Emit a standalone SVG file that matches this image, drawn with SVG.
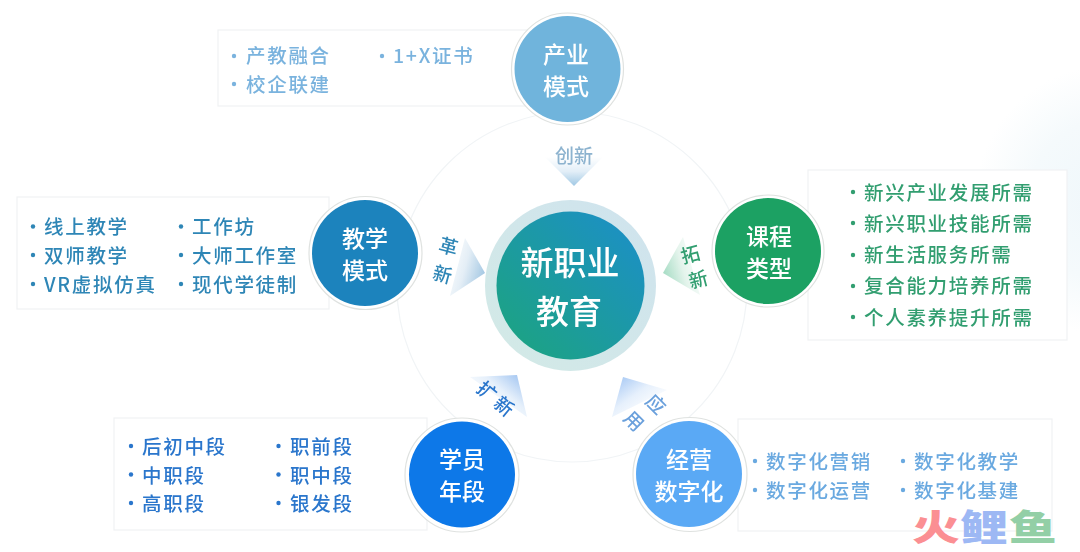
<svg xmlns="http://www.w3.org/2000/svg" width="1080" height="552" viewBox="0 0 1080 552">
<defs>
<radialGradient id="bg" cx="1110" cy="200" r="135" gradientUnits="userSpaceOnUse"><stop offset="0" stop-color="#eff7fb"/><stop offset="0.6" stop-color="#f5fafc"/><stop offset="1" stop-color="#fff"/></radialGradient>
<linearGradient id="core" x1="0" y1="1" x2="1" y2="0"><stop offset="0" stop-color="#1ca57c"/><stop offset="1" stop-color="#1f8ecb"/></linearGradient>
<linearGradient id="halo" x1="0" y1="1" x2="1" y2="0"><stop offset="0" stop-color="#d3eae6"/><stop offset="1" stop-color="#cfe3ee"/></linearGradient>
<linearGradient id="a1" gradientUnits="userSpaceOnUse" x1="574" y1="186" x2="574" y2="157"><stop offset="0" stop-color="#a0c8e4"/><stop offset="0.5" stop-color="#e2eef7"/><stop offset="1" stop-color="#fff"/></linearGradient>
<linearGradient id="a2" gradientUnits="userSpaceOnUse" x1="485" y1="273" x2="445" y2="262"><stop offset="0" stop-color="#a4c8e3"/><stop offset="0.5" stop-color="#e4eef6"/><stop offset="1" stop-color="#fff"/></linearGradient>
<linearGradient id="a3" gradientUnits="userSpaceOnUse" x1="663" y1="273" x2="702" y2="262"><stop offset="0" stop-color="#a6dcc4"/><stop offset="0.5" stop-color="#e4f4ec"/><stop offset="1" stop-color="#fff"/></linearGradient>
<linearGradient id="a4" gradientUnits="userSpaceOnUse" x1="517" y1="375" x2="490" y2="408"><stop offset="0" stop-color="#a8c9f2"/><stop offset="0.5" stop-color="#e6f0fb"/><stop offset="1" stop-color="#fff"/></linearGradient>
<linearGradient id="a5" gradientUnits="userSpaceOnUse" x1="623" y1="377" x2="648" y2="412"><stop offset="0" stop-color="#aecdf5"/><stop offset="0.5" stop-color="#e6f0fc"/><stop offset="1" stop-color="#fff"/></linearGradient>
<filter id="soft" x="-5%" y="-5%" width="110%" height="110%"><feGaussianBlur stdDeviation="0.55"/></filter>
</defs>
<style>
text{font-family:"Noto Sans CJK SC","Noto Sans",sans-serif;font-weight:500}
.box{fill:#fff;stroke:#f0f2f4;stroke-width:1.2}
.rim{fill:#fff;stroke:#dfe2e0;stroke-width:1.2}
.t{font-size:19.5px;letter-spacing:1.7px}
.nl{font-size:23px;fill:#fff;text-anchor:middle}
.al{font-size:19px;text-anchor:middle}
.c1{fill:#7ab3de}.c2{fill:#2f86b6}.c3{fill:#319e70}.c4{fill:#2a76cc}.c5{fill:#6aa9e0}
</style>
<rect width="1080" height="552" fill="#fff"/>
<rect x="960" y="60" width="120" height="300" fill="url(#bg)"/>
<g filter="url(#soft)">
<circle cx="572" cy="287" r="175" fill="none" stroke="#f1f4f6" stroke-width="1.2"/>
<g id="connectors">
<polygon points="574,186 545,157 603,157" fill="url(#a1)"/>
<polygon points="485,273 465,238 450,296" fill="url(#a2)"/>
<polygon points="663,273 683,237 700,295" fill="url(#a3)"/>
<polygon points="517,375 470,377 527,417" fill="url(#a4)"/>
<polygon points="623,377 612,417 667,390" fill="url(#a5)"/>
<text class="al" x="574" y="163" fill="#8db3cf">创新</text>
<text class="al" x="449" y="245" fill="#2f86b6" dominant-baseline="central" transform="rotate(15 449 245)">革</text>
<text class="al" x="443" y="273" fill="#2f86b6" dominant-baseline="central" transform="rotate(15 443 273)">新</text>
<text class="al" x="690" y="253" fill="#319e70" dominant-baseline="central" transform="rotate(-15 690 253)">拓</text>
<text class="al" x="698" y="278" fill="#319e70" dominant-baseline="central" transform="rotate(-15 698 278)">新</text>
<text class="al" x="488" y="390" fill="#2a76cc" dominant-baseline="central" transform="rotate(40 488 390)">扩</text>
<text class="al" x="505" y="405" fill="#2a76cc" dominant-baseline="central" transform="rotate(40 505 405)">新</text>
<text class="al" x="657" y="403" fill="#6aa0dc" dominant-baseline="central" transform="rotate(45 657 403)">应</text>
<text class="al" x="635" y="420" fill="#6aa0dc" dominant-baseline="central" transform="rotate(45 635 420)">用</text>
</g>
<g id="center">
<circle cx="570.5" cy="285.5" r="85.5" fill="url(#halo)"/>
<circle cx="570.5" cy="285.5" r="74" fill="url(#core)"/>
<text x="570" y="275" text-anchor="middle" font-size="33" fill="#fff">新职业</text>
<text x="569" y="324" text-anchor="middle" font-size="33" fill="#fff">教育</text>
</g>
<g id="chanye">
<rect class="box" x="218" y="30" width="310" height="76"/>
<g class="c1"><circle cx="234" cy="56" r="2.2"/><circle cx="382" cy="56" r="2.2"/><circle cx="234" cy="84" r="2.2"/></g>
<text class="t c1" x="246" y="62.500">产教融合</text>
<text class="t c1" x="393" y="62.500">1+X证书</text>
<text class="t c1" x="246" y="91.500">校企联建</text>
<circle class="rim" cx="567.5" cy="69" r="56"/>
<circle cx="567.5" cy="69" r="53" fill="#6fb4dc"/>
<text class="nl" x="566" y="63">产业</text><text class="nl" x="566" y="95">模式</text>
</g>
<g id="jiaoxue">
<rect class="box" x="17" y="197" width="312" height="112"/>
<g class="c2"><circle cx="33" cy="226.5" r="2.2"/><circle cx="181" cy="226.5" r="2.2"/><circle cx="33" cy="255" r="2.2"/><circle cx="181" cy="255" r="2.2"/><circle cx="33" cy="284" r="2.2"/><circle cx="181" cy="284" r="2.2"/></g>
<text class="t c2" x="44" y="233.500">线上教学</text>
<text class="t c2" x="192" y="233.500">工作坊</text>
<text class="t c2" x="44" y="262.500">双师教学</text>
<text class="t c2" x="192" y="262.500">大师工作室</text>
<text class="t c2" x="44" y="291.500">VR虚拟仿真</text>
<text class="t c2" x="192" y="291.500">现代学徒制</text>
<circle class="rim" cx="365.5" cy="253" r="56.5"/>
<circle cx="365" cy="253" r="53" fill="#1e83bd"/>
<text class="nl" x="365" y="247">教学</text><text class="nl" x="365" y="279">模式</text>
</g>
<g id="kecheng">
<rect class="box" x="808" y="170" width="259" height="170"/>
<g class="c3"><circle cx="853" cy="192" r="2.2"/><circle cx="853" cy="223" r="2.2"/><circle cx="853" cy="255" r="2.2"/><circle cx="853" cy="286" r="2.2"/><circle cx="853" cy="317" r="2.2"/></g>
<text class="t c3" x="864" y="199.500">新兴产业发展所需</text>
<text class="t c3" x="864" y="230.500">新兴职业技能所需</text>
<text class="t c3" x="864" y="261.500">新生活服务所需</text>
<text class="t c3" x="864" y="292.500">复合能力培养所需</text>
<text class="t c3" x="864" y="324.500">个人素养提升所需</text>
<circle class="rim" cx="768" cy="251" r="56"/>
<circle cx="768" cy="251" r="53" fill="#1aa163"/>
<text class="nl" x="769" y="245">课程</text><text class="nl" x="769" y="277">类型</text>
</g>
<g id="xueyuan">
<rect class="box" x="114" y="418" width="313" height="112"/>
<g class="c4"><circle cx="131" cy="446" r="2.2"/><circle cx="278.500" cy="446" r="2.2"/><circle cx="131" cy="474.500" r="2.2"/><circle cx="278.500" cy="474.500" r="2.2"/><circle cx="131" cy="503" r="2.2"/><circle cx="278.500" cy="503" r="2.2"/></g>
<text class="t c4" x="142" y="453.500">后初中段</text>
<text class="t c4" x="290" y="453.500">职前段</text>
<text class="t c4" x="142" y="482.500">中职段</text>
<text class="t c4" x="290" y="482.500">职中段</text>
<text class="t c4" x="142" y="510.500">高职段</text>
<text class="t c4" x="290" y="510.500">银发段</text>
<circle class="rim" cx="462" cy="475" r="57"/>
<circle cx="462" cy="474.500" r="53" fill="#0d78e8"/>
<text class="nl" x="462" y="468">学员</text><text class="nl" x="462" y="500">年段</text>
</g>
<g id="jingying">
<rect class="box" x="738" y="419" width="314" height="112"/>
<g class="c5"><circle cx="755" cy="461" r="2.200"/><circle cx="903" cy="461" r="2.200"/><circle cx="755" cy="490" r="2.200"/><circle cx="903" cy="490" r="2.200"/></g>
<text class="t c5" x="766" y="468.500">数字化营销</text>
<text class="t c5" x="914" y="468.500">数字化教学</text>
<text class="t c5" x="766" y="497.500">数字化运营</text>
<text class="t c5" x="914" y="497.500">数字化基建</text>
<circle class="rim" cx="690" cy="474.500" r="57"/>
<circle cx="689" cy="474" r="53" fill="#5aa9f5"/>
<text class="nl" x="689" y="468">经营</text><text class="nl" x="689" y="500">数字化</text>
</g>
</g>
<g id="watermark" style="font-size:36px">
<text transform="translate(912 541) scale(1.33 1)" fill="#fb8f93" style="font-weight:900">火</text>
<text transform="translate(960 541) scale(1.33 1)" fill="#9db8f4" style="font-weight:900">鲤</text>
<text transform="translate(1009 541) scale(1.33 1)" fill="#93cfa6" style="font-weight:900">鱼</text>
</g>
</svg>
